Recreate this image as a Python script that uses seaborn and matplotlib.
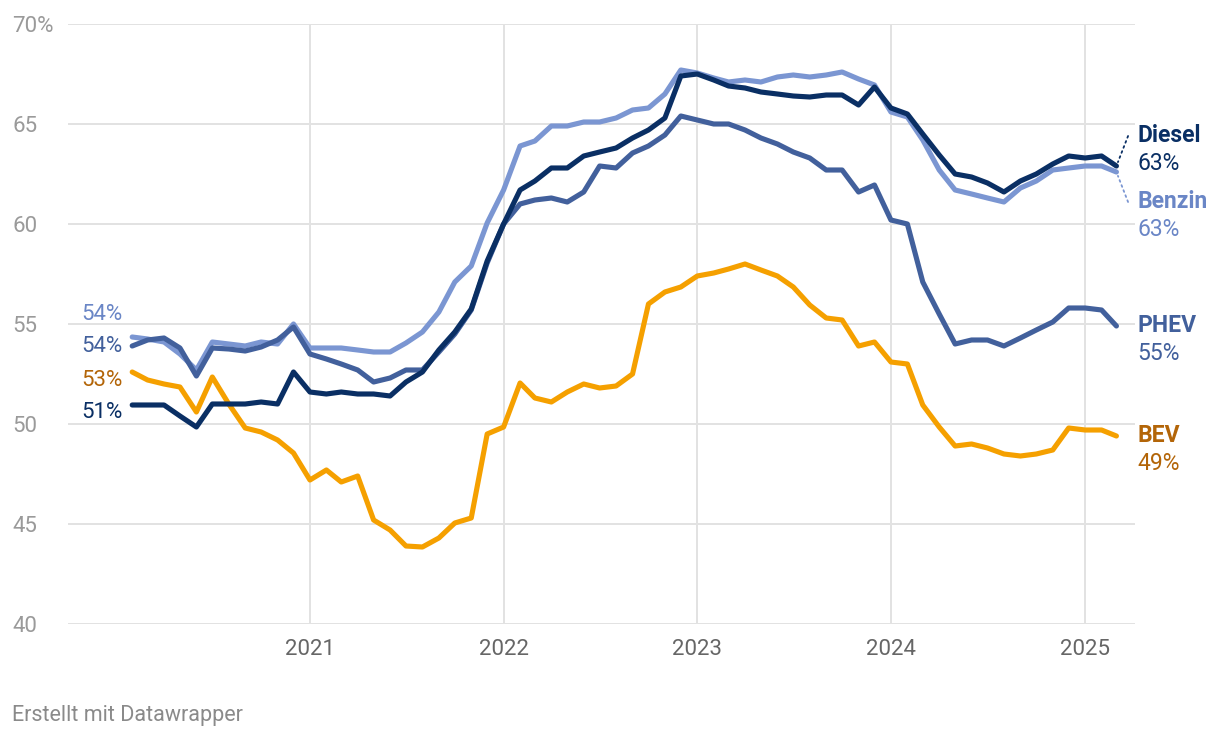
import pandas as pd
import seaborn as sns
import matplotlib.pyplot as plt
import matplotlib.dates as mdates

# Monthly shares (%), Feb 2020 - Mar 2025
months = pd.date_range("2020-02-01", periods=62, freq="MS")
year_ticks = pd.to_datetime(["2021-01-01", "2022-01-01", "2023-01-01", "2024-01-01", "2025-01-01"])

bev = [52.6, 52.2, 52.0, 51.85, 50.6, 52.35, 51.0, 49.8, 49.6, 49.2, 48.55,
       47.2, 47.7, 47.1, 47.4, 45.2, 44.7, 43.9, 43.85, 44.3, 45.05, 45.3,
       49.5, 49.85, 52.05, 51.3, 51.1, 51.6, 52.0, 51.8, 51.9, 52.5, 56.0,
       56.6, 56.85, 57.4, 57.55, 57.75, 58.0, 57.7, 57.4, 56.85, 55.95, 55.3,
       55.2, 53.9, 54.1, 53.1, 53.0, 50.95, 49.85, 48.9, 49.0, 48.8, 48.5,
       48.4, 48.5, 48.7, 49.8, 49.7, 49.7, 49.4]
diesel = [50.95, 50.95, 50.95, 50.4, 49.85, 51.0, 51.0, 51.0, 51.1, 51.0, 52.6,
          51.6, 51.5, 51.6, 51.5, 51.5, 51.4, 52.1, 52.6, 53.7, 54.6, 55.75,
          58.15, 60.0, 61.7, 62.15, 62.8, 62.8, 63.4, 63.6, 63.8, 64.3, 64.7,
          65.3, 67.4, 67.5, 67.2, 66.9, 66.8, 66.6, 66.5, 66.4, 66.35, 66.45,
          66.45, 65.95, 66.85, 65.8, 65.5, 64.5, 63.45, 62.5, 62.35, 62.05,
          61.6, 62.15, 62.5, 63.0, 63.4, 63.3, 63.4, 62.9]
benzin = [54.35, 54.25, 54.1, 53.5, 52.7, 54.1, 54.0, 53.9, 54.1, 54.0, 55.0,
          53.8, 53.8, 53.8, 53.7, 53.6, 53.6, 54.05, 54.6, 55.6, 57.1, 57.9,
          60.05, 61.7, 63.9, 64.15, 64.9, 64.9, 65.1, 65.1, 65.3, 65.7, 65.8,
          66.5, 67.7, 67.55, 67.3, 67.1, 67.2, 67.1, 67.35, 67.45, 67.35, 67.45,
          67.6, 67.25, 66.95, 65.6, 65.35, 64.2, 62.7, 61.7, 61.5, 61.3, 61.1,
          61.8, 62.15, 62.7, 62.8, 62.9, 62.9, 62.6]
phev = [53.9, 54.2, 54.3, 53.8, 52.4, 53.8, 53.75, 53.65, 53.85, 54.2, 54.85,
        53.5, 53.25, 53.0, 52.7, 52.1, 52.3, 52.7, 52.7, 53.6, 54.5, 55.7,
        58.05, 60.0, 61.0, 61.2, 61.3, 61.1, 61.6, 62.9, 62.8, 63.55, 63.9,
        64.45, 65.4, 65.2, 65.0, 65.0, 64.7, 64.3, 64.0, 63.6, 63.3, 62.7,
        62.7, 61.6, 61.95, 60.2, 60.0, 57.1, 55.5, 54.0, 54.2, 54.2, 53.9,
        54.3, 54.7, 55.1, 55.8, 55.8, 55.7, 54.9]

series = {"BEV": bev, "Benzin": benzin, "PHEV": phev, "Diesel": diesel}
line_colors = {"BEV": "#f5a000", "Benzin": "#7b96d2", "PHEV": "#42609c", "Diesel": "#0a2f64"}
text_colors = {"BEV": "#b36508", "Benzin": "#6a86c6", "PHEV": "#42609c", "Diesel": "#0a2f64"}

# label placement (layout only): left start labels and right end labels
left_label_y = {"Benzin": 55.45, "PHEV": 53.9, "BEV": 52.2, "Diesel": 50.6}
right_label_y = {"Diesel": 64.4, "Benzin": 61.1, "PHEV": 54.9, "BEV": 49.4}

df = pd.concat(
    [pd.DataFrame({"date": months, "value": vals, "series": name})
     for name, vals in series.items()],
    ignore_index=True,
)

plt.rcParams["font.family"] = ["Roboto", "DejaVu Sans"]
plt.rcParams["lines.solid_joinstyle"] = "round"
plt.rcParams["lines.solid_capstyle"] = "round"

fig = plt.figure(figsize=(12.2, 7.4), dpi=100)
ax = fig.add_axes([68 / 1220, 1 - 624 / 740, (1135 - 68) / 1220, 600 / 740])

sns.lineplot(
    ax=ax,
    data=df,
    x="date",
    y="value",
    hue="series",
    hue_order=["BEV", "Benzin", "PHEV", "Diesel"],
    palette=line_colors,
    linewidth=3.7,
    legend=False,
    zorder=3,
)

ax.set_xlim(pd.Timestamp("2019-10-03"), pd.Timestamp("2025-04-05"))
ax.set_ylim(40, 70)

# Axes ticks and grid
yticks = [40, 45, 50, 55, 60, 65, 70]
ax.set_yticks(yticks)
ax.set_yticklabels([f"{t}%" if t == 70 else str(t) for t in yticks])
ax.set_xticks(year_ticks)
ax.xaxis.set_major_formatter(mdates.DateFormatter("%Y"))
ax.tick_params(axis="y", length=0, pad=40, labelsize=16, labelcolor="#9a9a9a")
ax.tick_params(axis="x", length=0, pad=11, labelsize=16, labelcolor="#666666")
for lbl in ax.get_yticklabels():
    lbl.set_horizontalalignment("left")
ax.grid(True, color="#e2e2e2", linewidth=1.4, zorder=0)
ax.set_axisbelow(True)
for s in ax.spines.values():
    s.set_visible(False)
ax.set_xlabel("")
ax.set_ylabel("")

# Start labels
for name, vals in series.items():
    ax.annotate(
        f"{round(vals[0])}%",
        xy=(months[0], left_label_y[name]),
        xytext=(-7, 0),
        textcoords="offset points",
        ha="right",
        va="center",
        fontsize=16,
        color=text_colors[name],
    )

# End labels
ytr = ax.get_yaxis_transform()
for name, vals in series.items():
    ly = right_label_y[name]
    ax.text(1.002, ly, name, transform=ytr, ha="left", va="center",
            fontsize=16.5, fontweight="bold", color=text_colors[name], clip_on=False)
    ax.text(1.002, ly - 1.4, f"{round(vals[-1])}%", transform=ytr, ha="left",
            va="center", fontsize=16.5, color=text_colors[name], clip_on=False)
    if abs(ly - vals[-1]) > 0.5:
        ax.annotate(
            "",
            xy=(months[-1], vals[-1]),
            xytext=(0.9935, ly),
            textcoords=ytr,
            arrowprops=dict(arrowstyle="-", linestyle=(0, (1, 2)),
                            color=line_colors[name], linewidth=1.3,
                            shrinkA=0, shrinkB=3),
        )

fig.text(12 / 1220, 1 - 716 / 740, "Erstellt mit Datawrapper", ha="left",
         va="center", fontsize=15.5, color="#8a8a8a")

fig.savefig("out.png", dpi=100, facecolor="white")
